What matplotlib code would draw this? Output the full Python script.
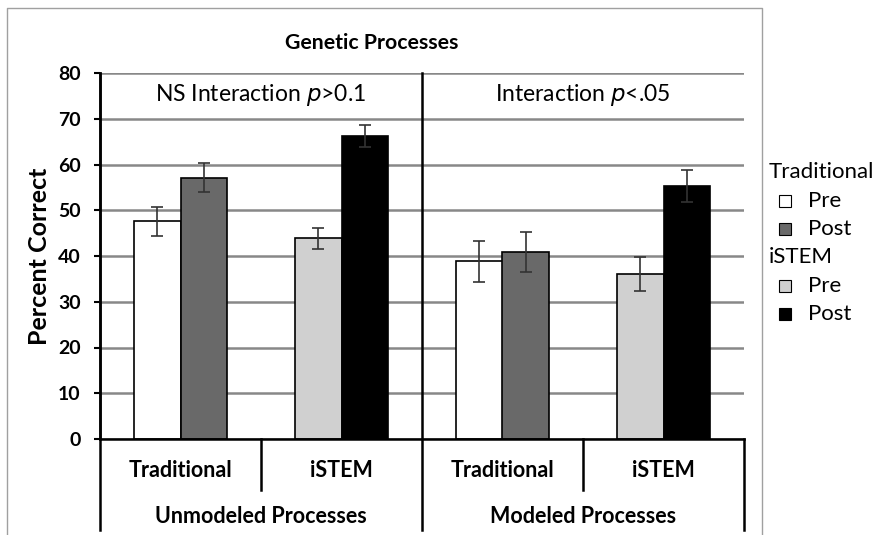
import numpy as np
import matplotlib
matplotlib.use('Agg')
import matplotlib.pyplot as plt
from matplotlib.patches import Rectangle
from matplotlib.lines import Line2D

plt.rcParams['font.family'] = ['Lato', 'DejaVu Sans']

# data
groups = ['Traditional', 'iSTEM', 'Traditional', 'iSTEM']
sections = ['Unmodeled Processes', 'Modeled Processes']
notes = ['NS Interaction $\\it{p}$>0.1', 'Interaction $\\it{p}$<.05']
pre = [47.6, 43.9, 38.8, 36.1]
post = [57.1, 66.2, 40.9, 55.2]
pre_err = [3.2, 2.3, 4.45, 3.65]
post_err = [3.2, 2.4, 4.45, 3.5]
legend_groups = ['Traditional', 'iSTEM']
legend_items = ['Pre', 'Post']

pre_col = {'Traditional': 'white', 'iSTEM': '#d0d0d0'}
post_col = {'Traditional': '#696969', 'iSTEM': 'black'}

fig = plt.figure(figsize=(8.75, 5.35), dpi=100)
ax = fig.add_axes([100 / 875, 1 - 439 / 535, 644 / 875, 366 / 535])

x = np.arange(len(groups))
w = 0.286
ax.bar(x - w / 2, pre, w, color=[pre_col[g] for g in groups],
       edgecolor='black', linewidth=1.2, zorder=3)
ax.bar(x + w / 2, post, w, color=[post_col[g] for g in groups],
       edgecolor='black', linewidth=1.2, zorder=3)
ax.errorbar(x - w / 2, pre, yerr=pre_err, fmt='none', ecolor='#333333',
            elinewidth=1.2, capsize=4, capthick=1.2, zorder=4)
ax.errorbar(x + w / 2, post, yerr=post_err, fmt='none', ecolor='#333333',
            elinewidth=1.2, capsize=4, capthick=1.2, zorder=4)

ax.set_xlim(-0.5, 3.5)
ax.set_ylim(0, 80)
ax.set_yticks(np.arange(0, 81, 10))
ax.set_xticks([])
ax.yaxis.grid(True, color='#888888', linewidth=1.8, zorder=0)
ax.set_axisbelow(True)
for s in ['top', 'right', 'bottom']:
    ax.spines[s].set_visible(False)
ax.spines['left'].set_linewidth(1.8)
ax.tick_params(axis='y', length=4, width=1.5, pad=10, labelsize=14)
for t in ax.get_yticklabels():
    t.set_fontweight('bold')
ax.set_ylabel('Percent Correct', fontsize=18, fontweight='bold', labelpad=5)

# panel divider and category box
trans = ax.get_xaxis_transform()
kw = dict(color='black', linewidth=1.8, clip_on=False, transform=trans, zorder=5)
ax.add_line(Line2D([-0.5, 3.5], [0, 0], **kw))
ax.add_line(Line2D([-0.5, -0.5], [-0.249, 1], **kw))
ax.add_line(Line2D([1.5, 1.5], [-0.249, 1], **kw))
ax.add_line(Line2D([3.5, 3.5], [-0.249, 0], **kw))
ax.add_line(Line2D([0.5, 0.5], [-0.139, 0], **kw))
ax.add_line(Line2D([2.5, 2.5], [-0.139, 0], **kw))

for i, g in enumerate(groups):
    ax.text(i, -0.085, g, transform=trans, ha='center', va='center',
            fontsize=15.5, fontweight='bold')
for j, s in enumerate(sections):
    ax.text(0.5 + 2 * j, -0.213, s, transform=trans, ha='center', va='center',
            fontsize=15.5, fontweight='bold')
    ax.text(0.5 + 2 * j, 0.94, notes[j], transform=trans, ha='center',
            va='center', fontsize=16.5)

fig.text(372 / 875, 1 - 43 / 535, 'Genetic Processes', ha='center',
         va='center', fontsize=15.3, fontweight='bold')

# outer chart frame
fig.add_artist(Line2D([7 / 875, 7 / 875, 762 / 875, 762 / 875],
                      [0, 1 - 8 / 535, 1 - 8 / 535, 0],
                      color='#a0a0a0', linewidth=1, transform=fig.transFigure))

# legend
ys = [172, 201, 229, 257, 286, 314]
k = 0
for g in legend_groups:
    fig.text(769 / 875, 1 - ys[k] / 535, g, ha='left', va='center', fontsize=16)
    k += 1
    for item in legend_items:
        c = pre_col[g] if item == 'Pre' else post_col[g]
        fig.add_artist(Rectangle((779 / 875, 1 - (ys[k] + 6) / 535),
                                 12 / 875, 12 / 535, facecolor=c,
                                 edgecolor='black', linewidth=0.8,
                                 transform=fig.transFigure))
        fig.text(808 / 875, 1 - ys[k] / 535, item, ha='left', va='center',
                 fontsize=16)
        k += 1

plt.savefig('out.png', dpi=100)
